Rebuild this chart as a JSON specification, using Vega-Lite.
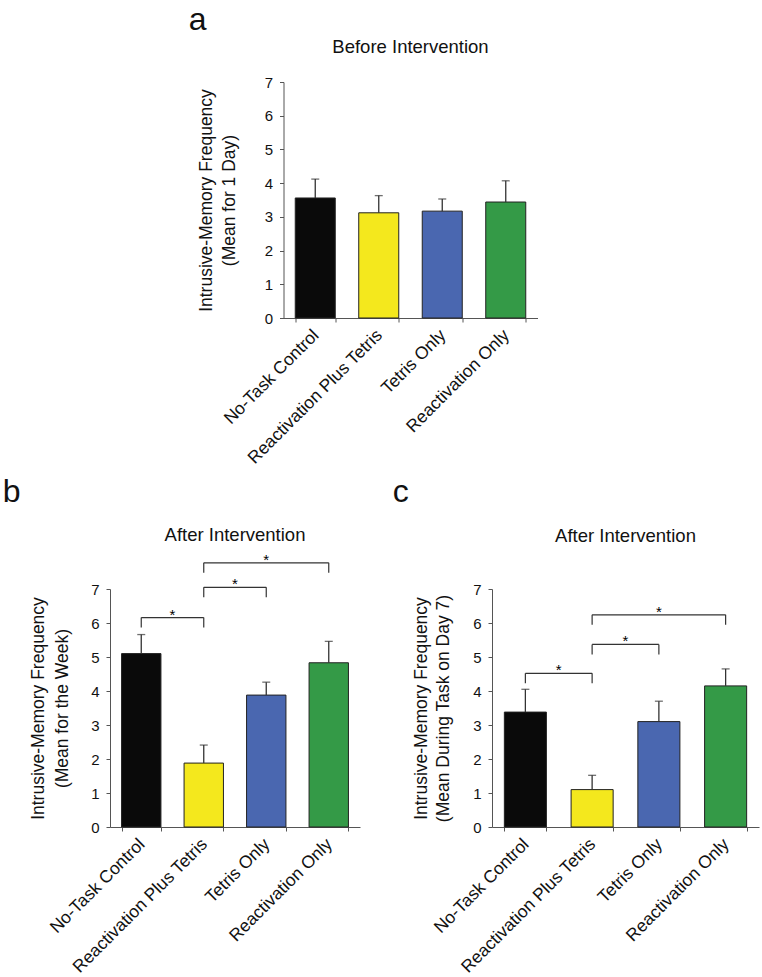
{
  "$schema": "https://vega.github.io/schema/vega-lite/v6.json",
  "background": "white",
  "padding": {"left": 2, "top": 3, "right": 1, "bottom": 2},
  "title": {"text": "a", "anchor": "start", "frame": "bounds", "fontSize": 32, "offset": 1, "dx": 186, "fontWeight": "normal", "color": "#111"},
  "datasets": {
    "a": [
      {"group": "No-Task Control", "mean": 3.56, "upper": 4.12},
      {"group": "Reactivation Plus Tetris", "mean": 3.12, "upper": 3.63},
      {"group": "Tetris Only", "mean": 3.17, "upper": 3.53},
      {"group": "Reactivation Only", "mean": 3.44, "upper": 4.07}
    ],
    "b": [
      {"group": "No-Task Control", "mean": 5.1, "upper": 5.66},
      {"group": "Reactivation Plus Tetris", "mean": 1.88, "upper": 2.41},
      {"group": "Tetris Only", "mean": 3.88, "upper": 4.26},
      {"group": "Reactivation Only", "mean": 4.83, "upper": 5.46}
    ],
    "c": [
      {"group": "No-Task Control", "mean": 3.38, "upper": 4.05},
      {"group": "Reactivation Plus Tetris", "mean": 1.1, "upper": 1.52},
      {"group": "Tetris Only", "mean": 3.1, "upper": 3.7},
      {"group": "Reactivation Only", "mean": 4.15, "upper": 4.65}
    ],
    "bb": [
      {"from": "No-Task Control", "to": "Reactivation Plus Tetris", "level": 6.16, "span": 1},
      {"from": "Reactivation Plus Tetris", "to": "Tetris Only", "level": 7.05, "span": 1},
      {"from": "Reactivation Plus Tetris", "to": "Reactivation Only", "level": 7.77, "span": 2}
    ],
    "cb": [
      {"from": "No-Task Control", "to": "Reactivation Plus Tetris", "level": 4.52, "span": 1},
      {"from": "Reactivation Plus Tetris", "to": "Tetris Only", "level": 5.37, "span": 1},
      {"from": "Reactivation Plus Tetris", "to": "Reactivation Only", "level": 6.24, "span": 2}
    ]
  },
  "config": {
    "view": {"stroke": null},
    "font": "Liberation Sans",
    "axis": {"grid": false},
    "title": {"fontWeight": "normal", "color": "#111", "font": "Liberation Sans"}
  },
  "vconcat": [
    {
      "width": 302, "height": 236,
      "title": {"text": "Before Intervention", "fontSize": 18.5, "frame": "group", "anchor": "middle", "offset": 19, "dx": -24},
      "data": {"name": "a"},
      "layer": [
        {
          "mark": {"type": "bar", "stroke": "#222", "strokeWidth": 1},
          "encoding": {
            "x": {"field": "group", "type": "nominal", "title": null,
                  "scale": {"domain": ["No-Task Control", "Reactivation Plus Tetris", "Tetris Only", "Reactivation Only"], "range": [0, 254], "paddingInner": 0.37, "paddingOuter": 0.185},
                  "axis": {"labelAngle": -45, "labelFontSize": 17.5, "labelLimit": 400, "labelPadding": 4, "labelOffset": -6, "tickBand": "extent", "tickSize": 4, "domainColor": "#555", "tickColor": "#555", "labelColor": "#111"}},
            "y": {"field": "mean", "type": "quantitative", "scale": {"domain": [0, 7]},
                  "axis": {"values": [0, 1, 2, 3, 4, 5, 6, 7], "labelOverlap": false, "labelFontSize": 15, "labelPadding": 7, "tickSize": 4, "domainColor": "#555", "tickColor": "#555", "labelColor": "#111", "titleColor": "#111", "titleFontWeight": "normal", "titleFontSize": 17.5, "titleLineHeight": 23, "titlePadding": 26, "title": ["Intrusive-Memory Frequency", "(Mean for 1 Day)"]}},
            "color": {"field": "group", "type": "nominal", "legend": null,
                      "scale": {"domain": ["No-Task Control", "Reactivation Plus Tetris", "Tetris Only", "Reactivation Only"], "range": ["#0a0a0a", "#f4e81d", "#4a67b0", "#349a47"]}}
          }
        },
        {
          "mark": {"type": "rule", "color": "#333", "strokeWidth": 1.3},
          "encoding": {"x": {"field": "group", "type": "nominal"},
            "y": {"field": "mean", "type": "quantitative", "axis": {"values": [0, 1, 2, 3, 4, 5, 6, 7], "labelOverlap": false, "labelFontSize": 15, "labelPadding": 7, "tickSize": 4, "domainColor": "#555", "tickColor": "#555", "labelColor": "#111", "titleColor": "#111", "titleFontWeight": "normal", "titleFontSize": 17.5, "titleLineHeight": 23, "titlePadding": 26, "title": ["Intrusive-Memory Frequency", "(Mean for 1 Day)"]}},
            "y2": {"field": "upper"}}
        },
        {
          "mark": {"type": "tick", "orient": "horizontal", "size": 8, "thickness": 1.3, "color": "#333"},
          "encoding": {"x": {"field": "group", "type": "nominal"},
            "y": {"field": "upper", "type": "quantitative", "axis": {"values": [0, 1, 2, 3, 4, 5, 6, 7], "labelOverlap": false, "labelFontSize": 15, "labelPadding": 7, "tickSize": 4, "domainColor": "#555", "tickColor": "#555", "labelColor": "#111", "titleColor": "#111", "titleFontWeight": "normal", "titleFontSize": 17.5, "titleLineHeight": 23, "titlePadding": 26, "title": ["Intrusive-Memory Frequency", "(Mean for 1 Day)"]}}}
        }
      ]
    },
    {
      "spacing": 32,
      "hconcat": [
        {
          "title": {"text": "b", "anchor": "start", "frame": "bounds", "fontSize": 32, "offset": 17, "dx": -27},
          "vconcat": [
            {
              "width": 250, "height": 238,
              "title": {"text": "After Intervention", "fontSize": 18.5, "frame": "group", "anchor": "middle", "offset": 8},
              "layer": [
                {
                  "data": {"name": "b"},
                  "mark": {"type": "bar", "stroke": "#222", "strokeWidth": 1},
                  "encoding": {
                    "x": {"field": "group", "type": "nominal", "title": null,
                          "scale": {"domain": ["No-Task Control", "Reactivation Plus Tetris", "Tetris Only", "Reactivation Only"], "paddingInner": 0.37, "paddingOuter": 0.185},
                          "axis": {"labelAngle": -45, "labelFontSize": 17.5, "labelLimit": 400, "labelPadding": 4, "labelOffset": -6, "tickBand": "extent", "tickSize": 4, "domainColor": "#555", "tickColor": "#555", "labelColor": "#111"}},
                    "y": {"field": "mean", "type": "quantitative", "scale": {"domain": [0, 7]},
                          "axis": {"values": [0, 1, 2, 3, 4, 5, 6, 7], "labelOverlap": false, "labelFontSize": 15, "labelPadding": 7, "tickSize": 4, "domainColor": "#555", "tickColor": "#555", "labelColor": "#111", "titleColor": "#111", "titleFontWeight": "normal", "titleFontSize": 17.5, "titleLineHeight": 24, "titlePadding": 19, "title": ["Intrusive-Memory Frequency", "(Mean for the Week)"]}},
                    "color": {"field": "group", "type": "nominal", "legend": null,
                              "scale": {"domain": ["No-Task Control", "Reactivation Plus Tetris", "Tetris Only", "Reactivation Only"], "range": ["#0a0a0a", "#f4e81d", "#4a67b0", "#349a47"]}}
                  }
                },
                {
                  "data": {"name": "b"},
                  "mark": {"type": "rule", "color": "#333", "strokeWidth": 1.3},
                  "encoding": {"x": {"field": "group", "type": "nominal"},
                    "y": {"field": "mean", "type": "quantitative", "axis": {"values": [0, 1, 2, 3, 4, 5, 6, 7], "labelOverlap": false, "labelFontSize": 15, "labelPadding": 7, "tickSize": 4, "domainColor": "#555", "tickColor": "#555", "labelColor": "#111", "titleColor": "#111", "titleFontWeight": "normal", "titleFontSize": 17.5, "titleLineHeight": 24, "titlePadding": 19, "title": ["Intrusive-Memory Frequency", "(Mean for the Week)"]}},
                    "y2": {"field": "upper"}}
                },
                {
                  "data": {"name": "b"},
                  "mark": {"type": "tick", "orient": "horizontal", "size": 8, "thickness": 1.3, "color": "#333"},
                  "encoding": {"x": {"field": "group", "type": "nominal"},
                    "y": {"field": "upper", "type": "quantitative", "axis": {"values": [0, 1, 2, 3, 4, 5, 6, 7], "labelOverlap": false, "labelFontSize": 15, "labelPadding": 7, "tickSize": 4, "domainColor": "#555", "tickColor": "#555", "labelColor": "#111", "titleColor": "#111", "titleFontWeight": "normal", "titleFontSize": 17.5, "titleLineHeight": 24, "titlePadding": 19, "title": ["Intrusive-Memory Frequency", "(Mean for the Week)"]}}}
                },
                {
                  "data": {"name": "bb"},
                  "mark": {"type": "rule", "color": "#333", "strokeWidth": 1.2},
                  "encoding": {"x": {"field": "from", "type": "nominal"}, "x2": {"field": "to"},
                    "y": {"field": "level", "type": "quantitative", "axis": {"values": [0, 1, 2, 3, 4, 5, 6, 7], "labelOverlap": false, "labelFontSize": 15, "labelPadding": 7, "tickSize": 4, "domainColor": "#555", "tickColor": "#555", "labelColor": "#111", "titleColor": "#111", "titleFontWeight": "normal", "titleFontSize": 17.5, "titleLineHeight": 24, "titlePadding": 19, "title": ["Intrusive-Memory Frequency", "(Mean for the Week)"]}}}
                },
                {
                  "data": {"name": "bb"},
                  "transform": [{"fold": ["from", "to"], "as": ["end", "cat"]}],
                  "mark": {"type": "rule", "color": "#333", "strokeWidth": 1.2, "y2Offset": 10},
                  "encoding": {"x": {"field": "cat", "type": "nominal"},
                    "y": {"field": "level", "type": "quantitative", "axis": {"values": [0, 1, 2, 3, 4, 5, 6, 7], "labelOverlap": false, "labelFontSize": 15, "labelPadding": 7, "tickSize": 4, "domainColor": "#555", "tickColor": "#555", "labelColor": "#111", "titleColor": "#111", "titleFontWeight": "normal", "titleFontSize": 17.5, "titleLineHeight": 24, "titlePadding": 19, "title": ["Intrusive-Memory Frequency", "(Mean for the Week)"]}},
                    "y2": {"field": "level"}}
                },
                {
                  "data": {"name": "bb"},
                  "transform": [{"filter": "datum.span == 1"}],
                  "mark": {"type": "text", "text": "*", "fontSize": 15, "baseline": "alphabetic", "dy": 2},
                  "encoding": {"x": {"field": "from", "type": "nominal", "bandPosition": 1.294},
                    "y": {"field": "level", "type": "quantitative", "axis": {"values": [0, 1, 2, 3, 4, 5, 6, 7], "labelOverlap": false, "labelFontSize": 15, "labelPadding": 7, "tickSize": 4, "domainColor": "#555", "tickColor": "#555", "labelColor": "#111", "titleColor": "#111", "titleFontWeight": "normal", "titleFontSize": 17.5, "titleLineHeight": 24, "titlePadding": 19, "title": ["Intrusive-Memory Frequency", "(Mean for the Week)"]}}}
                },
                {
                  "data": {"name": "bb"},
                  "transform": [{"filter": "datum.span == 2"}],
                  "mark": {"type": "text", "text": "*", "fontSize": 15, "baseline": "alphabetic", "dy": 2},
                  "encoding": {"x": {"field": "from", "type": "nominal", "bandPosition": 2.087},
                    "y": {"field": "level", "type": "quantitative", "axis": {"values": [0, 1, 2, 3, 4, 5, 6, 7], "labelOverlap": false, "labelFontSize": 15, "labelPadding": 7, "tickSize": 4, "domainColor": "#555", "tickColor": "#555", "labelColor": "#111", "titleColor": "#111", "titleFontWeight": "normal", "titleFontSize": 17.5, "titleLineHeight": 24, "titlePadding": 19, "title": ["Intrusive-Memory Frequency", "(Mean for the Week)"]}}}
                }
              ]
            }
          ]
        },
        {
          "title": {"text": "c", "anchor": "start", "frame": "bounds", "fontSize": 32, "offset": 18, "dx": -20},
          "vconcat": [
            {
              "width": 267, "height": 238,
              "title": {"text": "After Intervention", "fontSize": 18.5, "frame": "group", "anchor": "middle", "offset": 37},
              "layer": [
                {
                  "data": {"name": "c"},
                  "mark": {"type": "bar", "stroke": "#222", "strokeWidth": 1},
                  "encoding": {
                    "x": {"field": "group", "type": "nominal", "title": null,
                          "scale": {"domain": ["No-Task Control", "Reactivation Plus Tetris", "Tetris Only", "Reactivation Only"], "paddingInner": 0.37, "paddingOuter": 0.185},
                          "axis": {"labelAngle": -45, "labelFontSize": 17.5, "labelLimit": 400, "labelPadding": 4, "labelOffset": -6, "tickBand": "extent", "tickSize": 4, "domainColor": "#555", "tickColor": "#555", "labelColor": "#111"}},
                    "y": {"field": "mean", "type": "quantitative", "scale": {"domain": [0, 7]},
                          "axis": {"values": [0, 1, 2, 3, 4, 5, 6, 7], "labelOverlap": false, "labelFontSize": 15, "labelPadding": 7, "tickSize": 4, "domainColor": "#555", "tickColor": "#555", "labelColor": "#111", "titleColor": "#111", "titleFontWeight": "normal", "titleFontSize": 17.5, "titleLineHeight": 22, "titlePadding": 20, "title": ["Intrusive-Memory  Frequency", "(Mean During Task on Day 7)"]}},
                    "color": {"field": "group", "type": "nominal", "legend": null,
                              "scale": {"domain": ["No-Task Control", "Reactivation Plus Tetris", "Tetris Only", "Reactivation Only"], "range": ["#0a0a0a", "#f4e81d", "#4a67b0", "#349a47"]}}
                  }
                },
                {
                  "data": {"name": "c"},
                  "mark": {"type": "rule", "color": "#333", "strokeWidth": 1.3},
                  "encoding": {"x": {"field": "group", "type": "nominal"},
                    "y": {"field": "mean", "type": "quantitative", "axis": {"values": [0, 1, 2, 3, 4, 5, 6, 7], "labelOverlap": false, "labelFontSize": 15, "labelPadding": 7, "tickSize": 4, "domainColor": "#555", "tickColor": "#555", "labelColor": "#111", "titleColor": "#111", "titleFontWeight": "normal", "titleFontSize": 17.5, "titleLineHeight": 22, "titlePadding": 20, "title": ["Intrusive-Memory  Frequency", "(Mean During Task on Day 7)"]}},
                    "y2": {"field": "upper"}}
                },
                {
                  "data": {"name": "c"},
                  "mark": {"type": "tick", "orient": "horizontal", "size": 8, "thickness": 1.3, "color": "#333"},
                  "encoding": {"x": {"field": "group", "type": "nominal"},
                    "y": {"field": "upper", "type": "quantitative", "axis": {"values": [0, 1, 2, 3, 4, 5, 6, 7], "labelOverlap": false, "labelFontSize": 15, "labelPadding": 7, "tickSize": 4, "domainColor": "#555", "tickColor": "#555", "labelColor": "#111", "titleColor": "#111", "titleFontWeight": "normal", "titleFontSize": 17.5, "titleLineHeight": 22, "titlePadding": 20, "title": ["Intrusive-Memory  Frequency", "(Mean During Task on Day 7)"]}}}
                },
                {
                  "data": {"name": "cb"},
                  "mark": {"type": "rule", "color": "#333", "strokeWidth": 1.2},
                  "encoding": {"x": {"field": "from", "type": "nominal"}, "x2": {"field": "to"},
                    "y": {"field": "level", "type": "quantitative", "axis": {"values": [0, 1, 2, 3, 4, 5, 6, 7], "labelOverlap": false, "labelFontSize": 15, "labelPadding": 7, "tickSize": 4, "domainColor": "#555", "tickColor": "#555", "labelColor": "#111", "titleColor": "#111", "titleFontWeight": "normal", "titleFontSize": 17.5, "titleLineHeight": 22, "titlePadding": 20, "title": ["Intrusive-Memory  Frequency", "(Mean During Task on Day 7)"]}}}
                },
                {
                  "data": {"name": "cb"},
                  "transform": [{"fold": ["from", "to"], "as": ["end", "cat"]}],
                  "mark": {"type": "rule", "color": "#333", "strokeWidth": 1.2, "y2Offset": 10},
                  "encoding": {"x": {"field": "cat", "type": "nominal"},
                    "y": {"field": "level", "type": "quantitative", "axis": {"values": [0, 1, 2, 3, 4, 5, 6, 7], "labelOverlap": false, "labelFontSize": 15, "labelPadding": 7, "tickSize": 4, "domainColor": "#555", "tickColor": "#555", "labelColor": "#111", "titleColor": "#111", "titleFontWeight": "normal", "titleFontSize": 17.5, "titleLineHeight": 22, "titlePadding": 20, "title": ["Intrusive-Memory  Frequency", "(Mean During Task on Day 7)"]}},
                    "y2": {"field": "level"}}
                },
                {
                  "data": {"name": "cb"},
                  "transform": [{"filter": "datum.span == 1"}],
                  "mark": {"type": "text", "text": "*", "fontSize": 15, "baseline": "alphabetic", "dy": 2},
                  "encoding": {"x": {"field": "from", "type": "nominal", "bandPosition": 1.294},
                    "y": {"field": "level", "type": "quantitative", "axis": {"values": [0, 1, 2, 3, 4, 5, 6, 7], "labelOverlap": false, "labelFontSize": 15, "labelPadding": 7, "tickSize": 4, "domainColor": "#555", "tickColor": "#555", "labelColor": "#111", "titleColor": "#111", "titleFontWeight": "normal", "titleFontSize": 17.5, "titleLineHeight": 22, "titlePadding": 20, "title": ["Intrusive-Memory  Frequency", "(Mean During Task on Day 7)"]}}}
                },
                {
                  "data": {"name": "cb"},
                  "transform": [{"filter": "datum.span == 2"}],
                  "mark": {"type": "text", "text": "*", "fontSize": 15, "baseline": "alphabetic", "dy": 2},
                  "encoding": {"x": {"field": "from", "type": "nominal", "bandPosition": 2.087},
                    "y": {"field": "level", "type": "quantitative", "axis": {"values": [0, 1, 2, 3, 4, 5, 6, 7], "labelOverlap": false, "labelFontSize": 15, "labelPadding": 7, "tickSize": 4, "domainColor": "#555", "tickColor": "#555", "labelColor": "#111", "titleColor": "#111", "titleFontWeight": "normal", "titleFontSize": 17.5, "titleLineHeight": 22, "titlePadding": 20, "title": ["Intrusive-Memory  Frequency", "(Mean During Task on Day 7)"]}}}
                }
              ]
            }
          ]
        }
      ]
    }
  ],
  "spacing": 8,
  "center": true
}
